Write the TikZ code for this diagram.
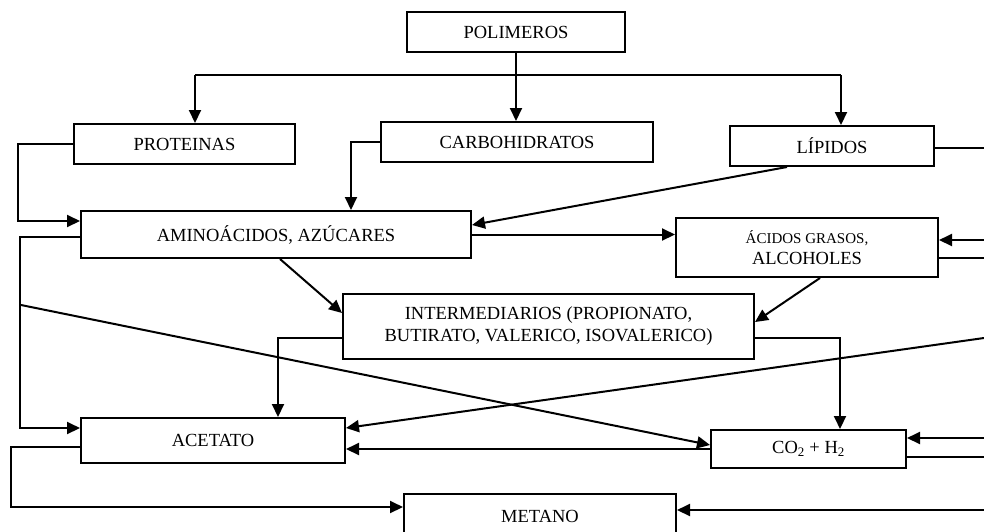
\documentclass[tikz,border=0pt]{standalone}
\usepackage{fontspec}
\setmainfont{Liberation Serif}
\usetikzlibrary{arrows.meta}
\begin{document}
\begin{tikzpicture}[x=1pt,y=-1pt,
  box/.style={draw, line width=2pt, inner sep=0pt, align=center, font=\fontsize{18.5}{22}\selectfont},
  arr/.style={line width=2pt, -{Triangle[length=13pt,width=12pt]}},
  ln/.style={line width=2pt}]
\useasboundingbox (0,0) rectangle (984,531);
% nodes
\node[box, minimum width=218pt, minimum height=40pt] (pol) at (516,32) {POLIMEROS};
\node[box, minimum width=221pt, minimum height=40pt] (prot) at (184.5,144) {PROTEINAS};
\node[box, minimum width=272pt, minimum height=40pt] (carb) at (517,142) {CARBOHIDRATOS};
\node[box, minimum width=204pt, minimum height=40pt] (lip) at (832,146) {LÍPIDOS};
\node[box, minimum width=390pt, minimum height=47pt] (amino) at (276,234.5) {AMINOÁCIDOS, AZÚCARES};
\node[box, minimum width=262pt, minimum height=59pt, font=\fontsize{18.5}{21}\selectfont] (acid) at (807,247.5) {{\fontsize{15}{21}\selectfont ÁCIDOS GRASOS,}\\ALCOHOLES};
\node[box, minimum width=411pt, minimum height=65pt] (inter) at (548.5,326.5) {INTERMEDIARIOS (PROPIONATO,\\BUTIRATO, VALERICO, ISOVALERICO)};
\node[box, minimum width=264pt, minimum height=45pt] (acet) at (213,440.5) {ACETATO};
\node[box, minimum width=195pt, minimum height=38pt] (co2) at (808.5,449) {CO\textsubscript{2} + H\textsubscript{2}};
\node[box, minimum width=272pt, minimum height=44pt] (met) at (540,516) {METANO};
% helper coordinates
\coordinate (hl) at (195,75);
\coordinate (hr) at (841,75);
\coordinate (dv) at (21,305);
\coordinate (E) at (984,0);
\coordinate (rAcid) at (984,240);
\coordinate (rDiag) at (984,338);
\coordinate (rCo) at (984,438);
\coordinate (rMet) at (984,510);
% connectors from POLIMEROS
\draw[arr] (pol.south) -- (pol.south |- carb.north);
\draw[ln] (hl) -- (hr);
\draw[arr] (hl) -- (hl |- prot.north);
\draw[arr] (hr) -- (hr |- lip.north);
% into AMINOACIDOS
\draw[arr] (prot.west) -- ++(-55,0) |- ([yshift=13.5pt]amino.west);
\draw[arr] (carb.west) -| ([xshift=75pt]amino.north);
\draw[arr] ([xshift=-45pt]lip.south) -- ([yshift=9.5pt]amino.east);
\draw[ln] ([yshift=-2pt]lip.east) -- ([yshift=-2pt]lip.east -| E);
% from AMINOACIDOS
\draw[arr] ([yshift=-2.5pt]amino.west) -- ++(-60,0) |- ([yshift=12.5pt]acet.west);
\draw[arr] (dv) -- ([yshift=4pt]co2.west);
\draw[arr] (amino.east) -- (amino.east -| acid.west);
\draw[arr] ([xshift=4pt]amino.south) -- ([yshift=13.5pt]inter.west);
% ACIDOS GRASOS
\draw[arr] (rAcid) -- (rAcid -| acid.east);
\draw[ln] ([yshift=-10.5pt]acid.east) -- ([yshift=-10.5pt]acid.east -| E);
\draw[arr] ([xshift=13pt]acid.south) -- ([yshift=4.5pt]inter.east);
% INTERMEDIARIOS
\draw[arr] ([yshift=-11.5pt]inter.west) -| ([xshift=65pt]acet.north);
\draw[arr] ([yshift=-11.5pt]inter.east) -| ([xshift=31.5pt]co2.north);
% ACETATO / CO2
\draw[arr] (rDiag) -- ([yshift=12.5pt]acet.east);
\draw[arr] (co2.west) -- (co2.west -| acet.east);
\draw[arr] (rCo) -- (rCo -| co2.east);
\draw[ln] ([yshift=-8pt]co2.east) -- ([yshift=-8pt]co2.east -| E);
% METANO
\draw[arr] ([yshift=-6.5pt]acet.west) -- ++(-69,0) |- ([yshift=9pt]met.west);
\draw[arr] (rMet) -- (rMet -| met.east);
\end{tikzpicture}
\end{document}
